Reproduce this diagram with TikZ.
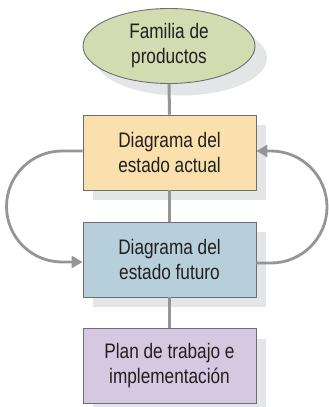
\documentclass[tikz,border=0pt]{standalone}
\usepackage{fontspec}
\setmainfont[FakeStretch=0.82]{Liberation Sans}
\usetikzlibrary{shapes.geometric,shadows,arrows.meta}
\definecolor{txt}{HTML}{231F20}
\definecolor{edge}{HTML}{6D6E71}
\definecolor{conn}{HTML}{939598}
\definecolor{shd}{HTML}{E4E5E6}
\definecolor{green}{HTML}{D3DCB1}
\definecolor{orange}{HTML}{F9E0AC}
\definecolor{blue}{HTML}{B7CFDB}
\definecolor{purple}{HTML}{D6C8E1}
\tikzset{
  base/.style={draw=edge, line width=0.9pt, text=txt, align=center,
    font=\fontsize{21}{25}\selectfont, inner sep=0pt},
  boxnode/.style={base, rectangle, minimum width=173pt, minimum height=75pt,
    drop shadow={shadow xshift=10pt, shadow yshift=-10pt, fill=shd, opacity=1}},
  ovalnode/.style={base, ellipse, minimum width=172pt, minimum height=75pt,
    drop shadow={shadow xshift=12pt, shadow yshift=-12pt, fill=shd, opacity=1}},
  link/.style={draw=conn, line width=3pt},
  loop/.style={draw=conn, line width=2.8pt, -{Triangle[length=11pt,width=12pt]}},
}
\begin{document}
\begin{tikzpicture}[x=1pt,y=-1pt]
\useasboundingbox (0,0) rectangle (329,407);
\node[ovalnode, fill=green] (fam) at (169,46) {Familia de\\productos};
\node[boxnode, fill=orange] (act) at (169.5,152.5) {Diagrama del\\estado actual};
\node[boxnode, fill=blue] (fut) at (169.5,259.5) {Diagrama del\\estado futuro};
\node[boxnode, fill=purple] (plan) at (169.5,366) {Plan de trabajo e\\implementación};
\draw[link] (fam.south) -- (act.north);
\draw[link] (act.south) -- (fut.north);
\draw[link] (fut.south) -- (plan.north);
\draw[loop] ([yshift=1.5pt]act.west) -- (62,151)
  .. controls (31.4,151) and (6.5,175.9) .. (6.5,206.5)
  .. controls (6.5,237.1) and (31.4,262) .. (62,262) -- ([yshift=-2.5pt]fut.west);
\draw[loop] ([yshift=-3.5pt]fut.east) -- (271,263)
  .. controls (301.9,263) and (327,237.9) .. (327,207)
  .. controls (327,176.1) and (301.9,151) .. (271,151) -- ([yshift=1.5pt]act.east);
\end{tikzpicture}
\end{document}
